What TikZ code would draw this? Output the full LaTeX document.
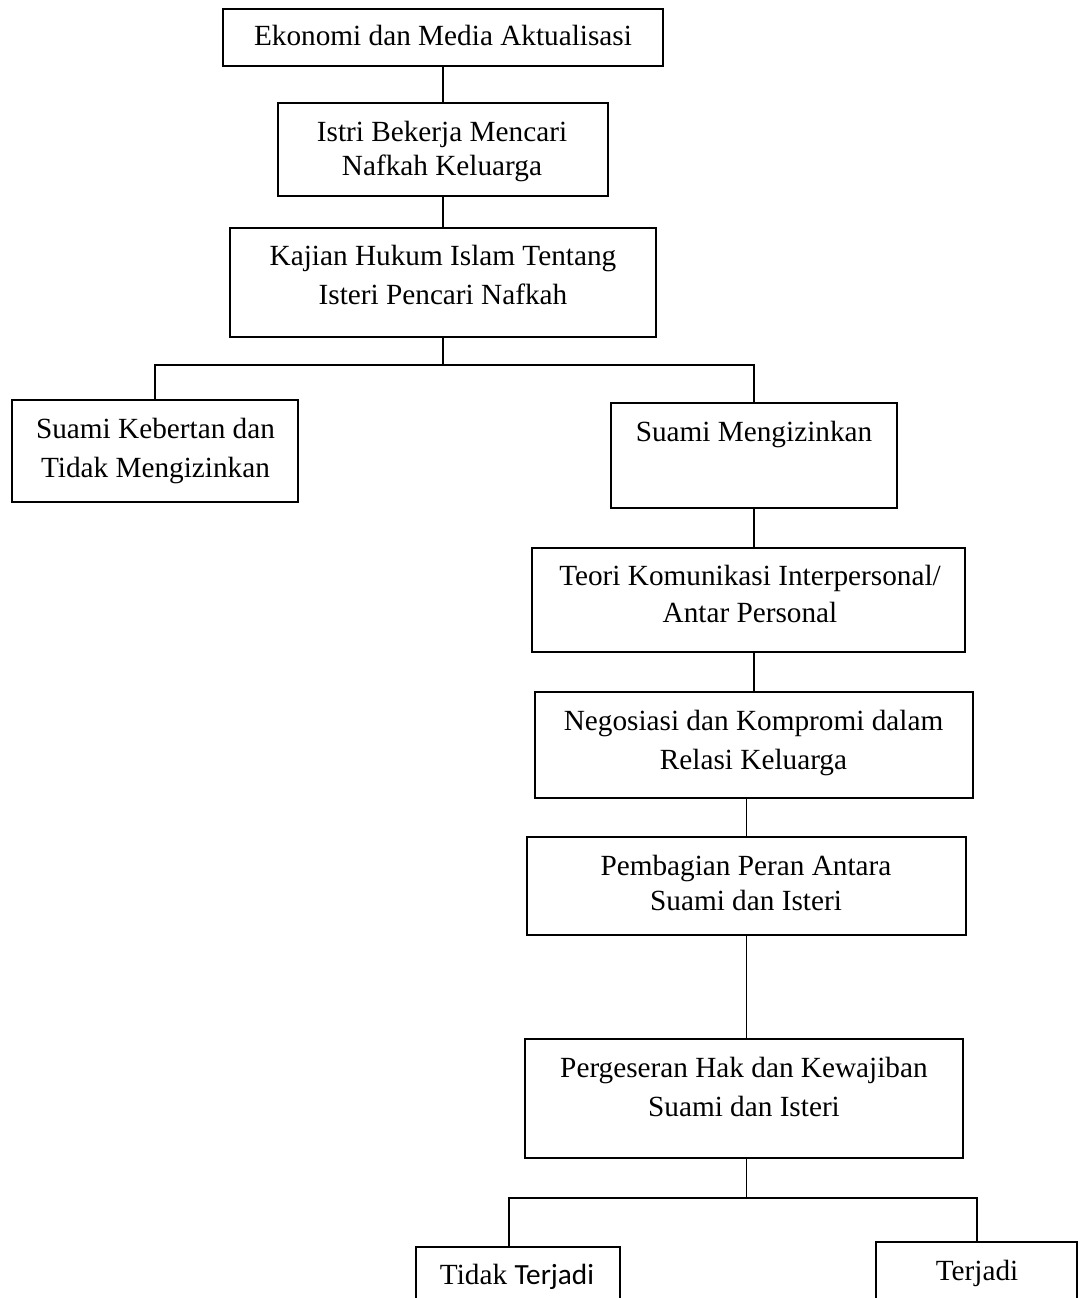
\documentclass[tikz,border=0pt]{standalone}
\usepackage{fontspec}
\setmainfont{Liberation Serif}
\newfontfamily\calibrifont{Carlito}
\usepackage{tikz}

\tikzset{
  box/.style={draw, line width=1pt, inner sep=0pt},
  txt/.style={inner sep=0pt, align=center, anchor=base,
    font=\fontsize{14.63pt}{#1}\selectfont},
  txt/.default=19pt,
  link/.style={line width=0.8pt}
}

\begin{document}
\begin{tikzpicture}[x=0.5pt, y=-0.5pt]
        \useasboundingbox (0,0) rectangle (1084,1298);
        \clip (0,0) rectangle (1084,1298);
        % boxes
        \node[box, minimum width=220pt, minimum height=28.5pt] (eko) at (443,37.5) {};
        \node[box, minimum width=165pt, minimum height=46.5pt] (istri) at (443,149.5) {};
        \node[box, minimum width=213pt, minimum height=54.5pt] (kaj) at (443,282.5) {};
        \node[box, minimum width=143pt, minimum height=51pt] (keb) at (155,451) {};
        \node[box, minimum width=143pt, minimum height=52.5pt] (izin) at (754,455.5) {};
        \node[box, minimum width=216.5pt, minimum height=52pt] (teori) at (748.5,600) {};
        \node[box, minimum width=219pt, minimum height=53pt] (nego) at (754,745) {};
        \node[box, minimum width=219.5pt, minimum height=49pt] (pemb) at (746.5,886) {};
        \node[box, minimum width=219pt, minimum height=59.5pt] (perg) at (744,1098.5) {};
        \node[box, minimum width=102pt, minimum height=46.5pt] (tidak) at (518,1293.5) {};
        \node[box, minimum width=100.5pt, minimum height=49pt] (terjadi) at (976.5,1291) {};
        % texts (base = last line)
        \node[txt] (ekoT) at (443,45.5) {Ekonomi dan Media Aktualisasi};
        \node[txt=17pt] (istriT) at (442,175.5) {Istri Bekerja Mencari\\Nafkah Keluarga};
        \node[txt=19.5pt] (kajT) at (443,304) {Kajian Hukum Islam Tentang\\Isteri Pencari Nafkah};
        \node[txt=19.3pt] (kebT) at (155.5,477.5) {Suami Kebertan dan\\Tidak Mengizinkan};
        \node[txt] (izinT) at (754,441.5) {Suami Mengizinkan};
        \node[txt=18.5pt] (teoriT) at (750,622) {Teori Komunikasi Interpersonal/\\Antar Personal};
        \node[txt=19.5pt] (negoT) at (753.5,769) {Negosiasi dan Kompromi dalam\\Relasi Keluarga};
        \node[txt=17.5pt] (pembT) at (746,910) {Pembagian Peran Antara\\Suami dan Isteri};
        \node[txt=19.5pt] (pergT) at (744,1116) {Pergeseran Hak dan Kewajiban\\Suami dan Isteri};
        \node[txt] (tidakT) at (517,1284) {Tidak {\calibrifont Terjadi}};
        \node[txt] (terjadiT) at (977,1280) {Terjadi};
        % connectors
        \coordinate (sa) at (443,365);
        \coordinate (sb) at ([yshift=-19.5pt]pemb.south |- perg.south);
        \draw[link] (eko.south) -- (eko.south |- istri.north);
        \draw[link] (istri.south) -- (istri.south |- kaj.north);
        \draw[link] (kaj.south) -- (sa);
        \draw[link] (keb.north) -- (keb.north |- sa) -- (izin.north |- sa) -- (izin.north);
        \draw[link] (izin.south) -- (izin.south |- teori.north);
        \draw[link] (nego.north) -- (nego.north |- teori.south);
        \draw[link] (pemb.north) -- (pemb.north |- nego.south);
        \draw[link] (pemb.south) -- (pemb.south |- perg.north);
        \draw[link] (pemb.south |- perg.south) -- (sb);
        \draw[link] ([xshift=-4.5pt]tidak.north) -- ([xshift=-4.5pt]tidak.north |- sb)
          -- ([xshift=0.25pt]terjadi.north |- sb) -- ([xshift=0.25pt]terjadi.north);
      \end{tikzpicture}
\end{document}
